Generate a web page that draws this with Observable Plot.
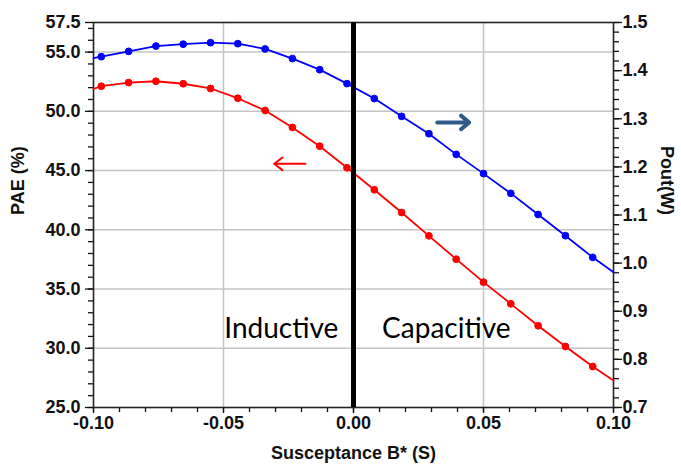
<!DOCTYPE html>
<html>
<head>
<meta charset="utf-8">
<script src="https://cdn.jsdelivr.net/npm/d3@7"></script>
<script src="https://cdn.jsdelivr.net/npm/@observablehq/plot@0.6"></script>
<style>
  html, body { margin: 0; padding: 0; background: #fff; }
  #chart svg { display: block; }
</style>
</head>
<body>
<div id="chart"></div>
<script>
// Susceptance B* (S); first and last entries are the curve ends at the frame edges
const susceptance = [-0.100, -0.097, -0.0865, -0.076, -0.0655, -0.055, -0.0445, -0.034, -0.0235, -0.013,
  -0.0025, 0.008, 0.0185, 0.029, 0.0395, 0.050, 0.0605, 0.071, 0.0815, 0.092, 0.100];
// PAE (%) — left axis
const pae = [51.90, 52.12, 52.43, 52.54, 52.33, 51.93, 51.11, 50.07, 48.64, 47.06,
  45.24, 43.38, 41.46, 39.49, 37.52, 35.58, 33.75, 31.90, 30.15, 28.46, 27.28];
// Pout (W) — right axis
const pout = [1.426, 1.429, 1.440, 1.451, 1.455, 1.458, 1.456, 1.445, 1.425, 1.402,
  1.373, 1.342, 1.305, 1.269, 1.226, 1.186, 1.145, 1.101, 1.057, 1.012, 0.981];

const xTicks = [-0.10, -0.05, 0.00, 0.05, 0.10];
const paeTicks = [25, 30, 35, 40, 45, 50, 55, 57.5];
const poutTicks = [0.7, 0.8, 0.9, 1.0, 1.1, 1.2, 1.3, 1.4, 1.5];

// left scale domain and the right (W) axis mapped onto it
const paeDomain = [25, 57.5];
const poutDomain = [0.7, 1.5];
const k = (paeDomain[1] - paeDomain[0]) / (poutDomain[1] - poutDomain[0]);
const toLeft = w => paeDomain[0] + (w - poutDomain[0]) * k;
const fromLeft = v => poutDomain[0] + (v - paeDomain[0]) / k;

const rows = susceptance.map((b, i) => ({b, pae: pae[i], pout: toLeft(pout[i]), mark: i > 0 && i < susceptance.length - 1}));
const markers = rows.filter(d => d.mark);

// direction arrows: which axis each curve belongs to
const paeArrow = [{x1: -0.0185, y1: 45.57, x2: -0.0305, y2: 45.57}];
const poutArrow = [{x1: 0.0322, y1: 49.06, x2: 0.0445, y2: 49.06}];
const regions = [
  {x: -0.0497, y: 31.6, label: "Inductive"},
  {x: 0.0110, y: 31.6, label: "Capacitive"}
];

const minorX = d3.range(-10, 11).map(i => i / 100);
const minorL = d3.range(25, 58);
const minorR = d3.range(35, 76).map(i => toLeft(i / 50));

const chart = Plot.plot({
  width: 681,
  height: 468,
  marginLeft: 93,
  marginRight: 68,
  marginTop: 22,
  marginBottom: 61,
  style: {fontFamily: "'Liberation Sans', Arial, sans-serif", fontWeight: "bold", fontSize: "18px", color: "#111"},
  x: {domain: [-0.1, 0.1]},
  y: {domain: paeDomain},
  marks: [
    Plot.gridY([30, 35, 40, 45, 50, 55], {stroke: "#c4c4c4", strokeOpacity: 1, strokeWidth: 1.5}),
    Plot.gridX([-0.05, 0.05], {stroke: "#c4c4c4", strokeOpacity: 1, strokeWidth: 1.5}),
    // minor ticks
    Plot.axisX(minorX, {tickSize: 5, tickFormat: () => "", label: null, strokeWidth: 1.3}),
    Plot.axisY(minorL, {tickSize: 5, tickFormat: () => "", label: null, strokeWidth: 1.3}),
    Plot.axisY(minorR, {anchor: "right", tickSize: 5, tickFormat: () => "", label: null, strokeWidth: 1.3}),
    // major ticks and labels
    Plot.axisX(xTicks, {tickSize: 6, tickPadding: 3, tickFormat: d => d.toFixed(2), label: null, strokeWidth: 1.3, fontSize: 18}),
    Plot.axisY(paeTicks, {tickSize: 8, tickPadding: 5, tickFormat: d => d.toFixed(1), label: null, strokeWidth: 1.3, fontSize: 18}),
    Plot.axisY(poutTicks.map(toLeft), {anchor: "right", tickSize: 8, tickPadding: 1, tickFormat: v => fromLeft(v).toFixed(1), label: null, strokeWidth: 1.3, fontSize: 18}),
    Plot.frame({stroke: "#222", strokeWidth: 1.6}),
    // PAE curve
    Plot.line(rows, {x: "b", y: "pae", stroke: "#ff0000", strokeWidth: 1.8}),
    Plot.dot(markers, {x: "b", y: "pae", r: 3.4, fill: "#ff0000", stroke: "#ff0000", strokeWidth: 1}),
    // Pout curve
    Plot.line(rows, {x: "b", y: "pout", stroke: "#0000ff", strokeWidth: 1.8}),
    Plot.dot(markers, {x: "b", y: "pout", r: 3.4, fill: "#0000ff", stroke: "#0000ff", strokeWidth: 1}),
    // B* = 0 divider
    Plot.ruleX([0], {stroke: "#000", strokeWidth: 5}),
    Plot.arrow(paeArrow, {x1: "x1", y1: "y1", x2: "x2", y2: "y2", stroke: "#ff0000", strokeWidth: 2, headLength: 13, headAngle: 75}),
    Plot.arrow(poutArrow, {x1: "x1", y1: "y1", x2: "x2", y2: "y2", stroke: "#2e5a88", strokeWidth: 4, headLength: 9, headAngle: 80}),
    Plot.text(regions, {x: "x", y: "y", text: "label", textAnchor: "start", fontSize: 28, fontWeight: "normal", fontFamily: "Lato, 'Open Sans', sans-serif", fill: "#000"}),
    // axis titles
    Plot.text(["PAE (%)"], {frameAnchor: "left", dx: -75, rotate: -90, fontSize: 18, fill: "#111"}),
    Plot.text(["Pout(W)"], {frameAnchor: "right", dx: 53, rotate: 90, fontSize: 18, fill: "#111"}),
    Plot.text(["Susceptance B* (S)"], {frameAnchor: "bottom", dy: 51, fontSize: 18, fill: "#111"})
  ]
});
document.getElementById("chart").append(chart);
</script>
</body>
</html>
